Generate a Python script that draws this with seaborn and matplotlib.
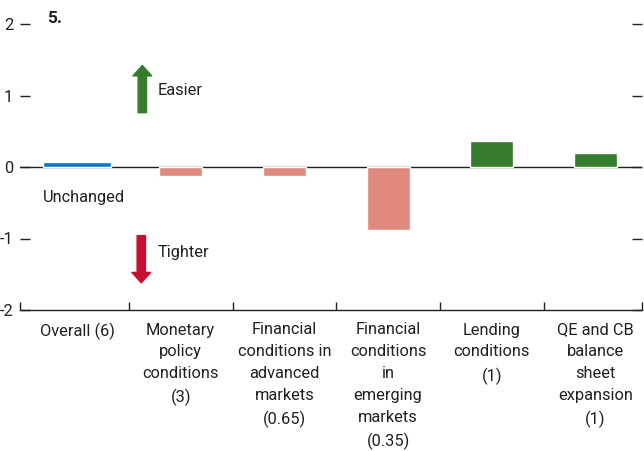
import matplotlib
matplotlib.use("Agg")
import matplotlib.pyplot as plt
import seaborn as sns
import pandas as pd
from matplotlib.ticker import FixedLocator, FuncFormatter

categories = ["Overall (6)",
              "Monetary\npolicy\nconditions\n(3)",
              "Financial\nconditions in\nadvanced\nmarkets\n(0.65)",
              "Financial\nconditions\nin\nemerging\nmarkets\n(0.35)",
              "Lending\nconditions\n(1)",
              "QE and CB\nbalance\nsheet\nexpansion\n(1)"]
values = [0.065, -0.13, -0.12, -0.875, 0.37, 0.20]
yticks = [-2, -1, 0, 1, 2]

BLUE = "#0A77C4"
SALMON = "#E08A7E"
GREEN = "#367B2E"
RED = "#C8102E"
TXT = "#231F20"

sns.set_theme(style="white")
plt.rcParams['font.family'] = ['Roboto', 'DejaVu Sans']
plt.rcParams['text.color'] = TXT

df = pd.DataFrame({"cat": categories, "val": values})
df["color"] = [BLUE] + [GREEN if v > 0 else SALMON for v in values[1:]]

fig = plt.figure(figsize=(6.44, 4.51), dpi=100)
ax = fig.add_axes([20/644, 1-310/451, 622/644, 286/451])

sns.barplot(data=df.iloc[:1], x="cat", y="val", order=categories, width=0.665,
            color=BLUE, saturation=1, ax=ax)
sns.barplot(data=df.iloc[1:], x="cat", y="val", order=categories, width=0.415,
            hue="cat", hue_order=categories, palette=dict(zip(df["cat"], df["color"])),
            saturation=1, legend=False, ax=ax)

ax.set_xlim(-0.55, 5.45)
ax.set_ylim(-2, 2)
ax.set_xlabel("")
ax.set_ylabel("")

for s in ["top", "left", "right"]:
    ax.spines[s].set_visible(False)
ax.spines["bottom"].set_color(TXT)
ax.spines["bottom"].set_linewidth(1.0)
ax.axhline(0, color=TXT, lw=1.0, zorder=0.5)

FS = 11.8
ax.set_yticks(yticks)
ax.yaxis.set_major_formatter(FuncFormatter(lambda v, p: f"{int(v)}"))
ax.tick_params(axis="y", which="major", direction="in", length=7, width=1, color=TXT,
               left=True, right=True, labelleft=True, labelright=False,
               labelsize=FS, pad=5, labelcolor=TXT)
ax.set_xticks(range(len(categories)))
ax.set_xticklabels(categories, fontsize=FS, color=TXT, linespacing=1.58)
ax.tick_params(axis="x", which="major", length=0, pad=9)
ax.xaxis.set_minor_locator(FixedLocator([-0.55, 0.5, 1.5, 2.5, 3.5, 4.5, 5.45]))
ax.tick_params(axis="x", which="minor", direction="in", length=6, width=1, color=TXT, bottom=True)

# annotations
ax.text(-0.29, 2.07, "5.", fontsize=12.5, fontweight="bold", ha="left", va="center", clip_on=False)
ax.annotate("", xy=(0.63, 1.42), xytext=(0.63, 0.76),
            arrowprops=dict(arrowstyle="simple,tail_width=0.6,head_width=1.35,head_length=0.75",
                            color=GREEN, shrinkA=0, shrinkB=0, mutation_scale=10))
ax.text(0.78, 1.07, "Easier", fontsize=FS, ha="left", va="center")
ax.annotate("", xy=(0.62, -1.62), xytext=(0.62, -0.96),
            arrowprops=dict(arrowstyle="simple,tail_width=0.6,head_width=1.35,head_length=0.75",
                            color=RED, shrinkA=0, shrinkB=0, mutation_scale=10))
ax.text(0.78, -1.19, "Tighter", fontsize=FS, ha="left", va="center")
ax.text(-0.33, -0.43, "Unchanged", fontsize=FS, ha="left", va="center")

fig.savefig("out.png", dpi=100)
